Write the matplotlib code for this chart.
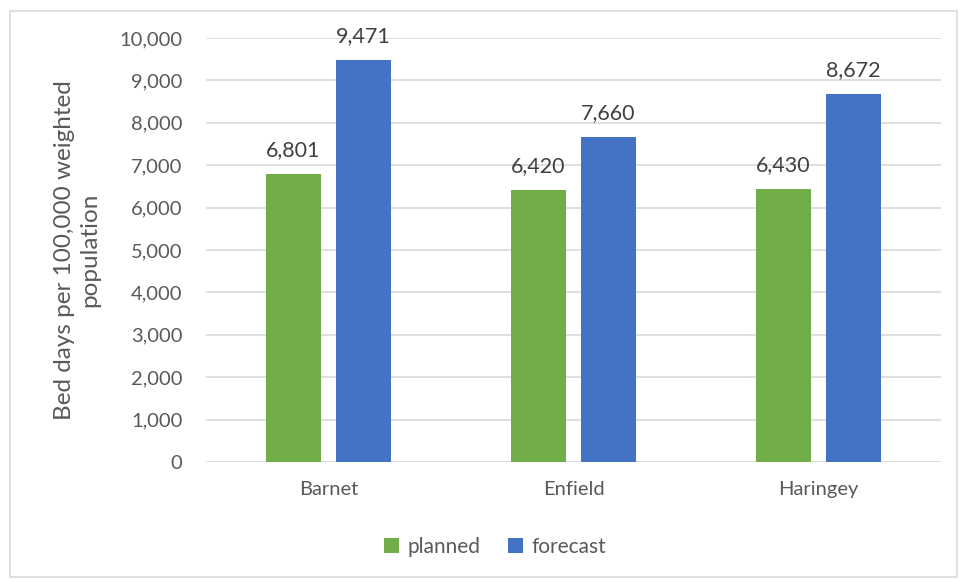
import matplotlib
matplotlib.use("Agg")
import matplotlib.pyplot as plt
import numpy as np
from matplotlib.patches import Rectangle
from matplotlib.ticker import FuncFormatter

categories = ["Barnet", "Enfield", "Haringey"]
planned = [6801, 6420, 6430]
forecast = [9471, 7660, 8672]

GREEN = "#70AD47"
BLUE = "#4472C4"
TEXT = "#595959"
LABEL = "#404040"

plt.rcParams["font.family"] = ["Lato", "DejaVu Sans"]

fig = plt.figure(figsize=(9.59, 5.79), dpi=100)
W, H = 959, 579
ax = fig.add_axes([206 / W, 1 - 462 / H, 735 / W, (462 - 38) / H])

x = np.arange(len(categories))
width = 0.224
off = 0.143
b1 = ax.bar(x - off, planned, width, color=GREEN, label="planned", zorder=3)
b2 = ax.bar(x + off, forecast, width, color=BLUE, label="forecast", zorder=3)

for bars, vals in ((b1, planned), (b2, forecast)):
    for rect, v in zip(bars, vals):
        ax.annotate(f"{v:,}", (rect.get_x() + rect.get_width() / 2, v),
                    xytext=(0, 10), textcoords="offset points",
                    ha="center", va="bottom", fontsize=15.5, color=LABEL,
                    annotation_clip=False)

ax.set_xlim(-0.5, len(categories) - 0.5)
ax.set_ylim(0, 10000)
ax.set_yticks(np.arange(0, 10001, 1000))
ax.yaxis.set_major_formatter(FuncFormatter(lambda v, p: f"{int(v):,}"))
ax.set_xticks(x)
ax.set_xticklabels(categories)
ax.tick_params(axis="both", length=0, labelsize=14.5, colors=TEXT)
ax.tick_params(axis="y", pad=17)
ax.tick_params(axis="x", pad=14)
ax.grid(axis="y", color="#D9D9D9", linewidth=1.2, zorder=0)
for s in ax.spines.values():
    s.set_visible(False)

ax.set_ylabel("Bed days per 100,000 weighted\npopulation", fontsize=17.5,
              color=TEXT, labelpad=14, linespacing=1.2)

leg = fig.legend(loc="center", bbox_to_anchor=(495 / W, 1 - 547 / H),
                 ncol=2, frameon=False, fontsize=15, handlelength=0.75,
                 handleheight=0.75, handletextpad=0.4, columnspacing=1.3)
for t in leg.get_texts():
    t.set_color(TEXT)

fig.patches.append(Rectangle((10 / W, 2 / H), 947 / W, (577 - 11) / H,
                             transform=fig.transFigure, fill=False,
                             edgecolor="#D9D9D9", linewidth=1.2))

fig.savefig("out.png", dpi=100, facecolor="white")
